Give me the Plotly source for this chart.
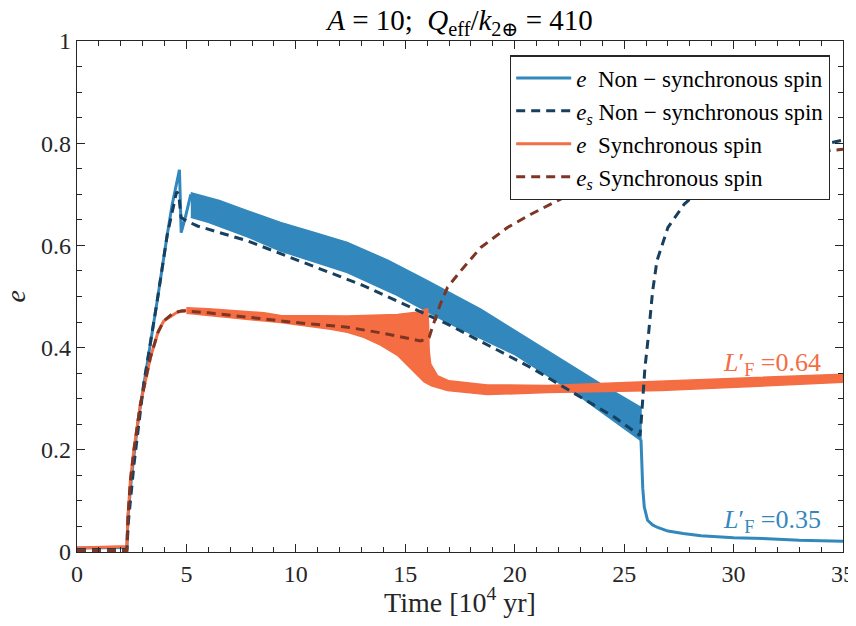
import plotly.graph_objects as go
import numpy as np

# ---------------- data ----------------
# Non-synchronous spin: e (thin part before oscillation band)
ns_e_x = [0, 2.28, 2.33, 2.5, 2.8, 3.05, 3.4, 3.66, 3.9, 4.12, 4.35, 4.55, 4.68, 4.72, 4.76, 4.95, 5.2]
ns_e_y = [0.008, 0.009, 0.07, 0.15, 0.26, 0.33, 0.42, 0.49, 0.56, 0.62, 0.68, 0.72, 0.748, 0.69, 0.625, 0.655, 0.70]
# Non-synchronous spin: e oscillation band (upper / lower envelope)
ns_up_x = [5.2, 6.5, 7.78, 9.3, 10.8, 12.35, 14.2, 16.01, 18.45, 21.5, 23.94, 25.77]
ns_up_y = [0.703, 0.688, 0.668, 0.645, 0.626, 0.606, 0.571, 0.531, 0.475, 0.394, 0.329, 0.283]
ns_lo_x = [5.2, 6.0, 7.78, 9.3, 10.8, 12.35, 14.5, 16.93, 19.97, 23.02, 25.77]
ns_lo_y = [0.655, 0.645, 0.617, 0.589, 0.568, 0.547, 0.505, 0.449, 0.387, 0.303, 0.218]
# Non-synchronous spin: e after the drop
ns_tail_x = [25.77, 25.8, 25.85, 25.92, 26.07, 26.3, 26.53, 27.0, 27.7, 28.51, 30, 31.56, 33, 35]
ns_tail_y = [0.22, 0.17, 0.125, 0.088, 0.062, 0.053, 0.048, 0.041, 0.036, 0.032, 0.028, 0.026, 0.023, 0.021]
# Non-synchronous spin: e_s
ns_es_x = [0, 2.28, 2.35, 2.6, 3.05, 3.66, 4.12, 4.4, 4.55, 4.65, 4.75, 5.0, 5.5, 7.78, 9.76, 13.11,
           16.93, 20.74, 24.55, 25.72, 25.77, 25.85, 25.95, 26.1, 26.3, 26.5, 27.0, 27.75, 28.97,
           30, 31, 32, 33, 34, 35]
ns_es_y = [0.005, 0.005, 0.06, 0.17, 0.33, 0.49, 0.62, 0.68, 0.705, 0.70, 0.655, 0.648, 0.638, 0.609, 0.576, 0.521,
           0.446, 0.361, 0.264, 0.228, 0.25, 0.30, 0.36, 0.42, 0.51, 0.57, 0.635, 0.681, 0.726,
           0.745, 0.762, 0.776, 0.787, 0.797, 0.806]

# Synchronous spin: e (thin part)
s_e_x = [0, 2.28, 2.33, 2.44, 2.6, 2.9, 3.35, 3.7, 3.96, 4.57, 5.0]
s_e_y = [0.008, 0.011, 0.07, 0.14, 0.20, 0.29, 0.38, 0.43, 0.452, 0.469, 0.473]
# Synchronous spin: e oscillation band
s_up_x = [5.0, 6.0, 8.54, 9.3, 12.35, 14.64, 15.5, 16.02, 16.06, 16.09, 16.16, 16.47, 17.0, 18.75, 21.5, 26.68, 30, 35]
s_up_y = [0.478, 0.476, 0.468, 0.463, 0.462, 0.465, 0.469, 0.476, 0.45, 0.394, 0.368, 0.345, 0.335, 0.327, 0.326, 0.334, 0.339, 0.348]
s_lo_x = [5.0, 6.0, 8.54, 9.3, 11.59, 12.35, 13.1, 13.87, 14.64, 15.1, 15.5, 15.86, 16.2, 16.93, 18.75, 21.5, 26.68, 30, 35]
s_lo_y = [0.467, 0.463, 0.452, 0.449, 0.436, 0.43, 0.42, 0.405, 0.385, 0.365, 0.348, 0.333, 0.325, 0.316, 0.308, 0.312, 0.316, 0.322, 0.332]
# Synchronous spin: e_s
s_es_x = [0, 2.28, 2.33, 2.44, 2.6, 2.9, 3.35, 3.7, 3.96, 4.4, 4.8, 6.0, 8.54, 10.0, 12.35, 14.0, 15.7,
          16.09, 16.2, 16.39, 16.6, 16.93, 17.53, 18.45, 19.67, 20.74, 22.26, 23.33, 24.7,
          26, 28, 30, 32, 34, 35]
s_es_y = [0.003, 0.003, 0.07, 0.14, 0.20, 0.29, 0.38, 0.43, 0.452, 0.468, 0.472, 0.468, 0.456, 0.449, 0.44, 0.428, 0.413,
          0.42, 0.435, 0.459, 0.485, 0.518, 0.55, 0.596, 0.635, 0.661, 0.694, 0.707, 0.723,
          0.735, 0.752, 0.764, 0.775, 0.784, 0.788]

x_ticks = [0, 5, 10, 15, 20, 25, 30, 35]
y_ticks = [0, 0.2, 0.4, 0.6, 0.8, 1]
y_tick_text = ["0", "0.2", "0.4", "0.6", "0.8", "1"]

labels = ["<i>e</i>  Non − synchronous spin",
          "<i>e<sub>s</sub></i> Non − synchronous spin",
          "<i>e</i>  Synchronous spin",
          "<i>e<sub>s</sub></i> Synchronous spin"]
lf_text = ["<i>L</i>′<sub>F</sub> =0.64", "<i>L</i>′<sub>F</sub> =0.35"]

# ---------------- style ----------------
BLUE = "#3288BD"
DARK = "#173F5E"
ORANGE = "#F46D43"
BROWN = "#7E3523"
FONT = "Liberation Serif, Times New Roman, DejaVu Serif, serif"
AX = "#262626"


def band(xu, yu, xl, yl):
    px = np.concatenate([np.asarray(xu), np.asarray(xl)[::-1]])
    py = np.concatenate([np.asarray(yu), np.asarray(yl)[::-1]])
    return px, py


fig = go.Figure()

# non-synchronous band
bx, by = band(ns_up_x, ns_up_y, ns_lo_x, ns_lo_y)
fig.add_trace(go.Scatter(x=bx, y=by, mode="lines", fill="toself", fillcolor=BLUE,
                         line=dict(color=BLUE, width=1.5), showlegend=False, hoverinfo="skip"))
fig.add_trace(go.Scatter(x=ns_e_x, y=ns_e_y, mode="lines", name=labels[0],
                         line=dict(color=BLUE, width=3), legendrank=1))
fig.add_trace(go.Scatter(x=ns_tail_x, y=ns_tail_y, mode="lines", showlegend=False,
                         line=dict(color=BLUE, width=3)))

# synchronous band
sx, sy = band(s_up_x, s_up_y, s_lo_x, s_lo_y)
fig.add_trace(go.Scatter(x=sx, y=sy, mode="lines", fill="toself", fillcolor=ORANGE,
                         line=dict(color=ORANGE, width=1.5), showlegend=False, hoverinfo="skip"))
fig.add_trace(go.Scatter(x=s_e_x, y=s_e_y, mode="lines", name=labels[2],
                         line=dict(color=ORANGE, width=3), legendrank=3))

# e_s curves
fig.add_trace(go.Scatter(x=ns_es_x, y=ns_es_y, mode="lines", name=labels[1],
                         line=dict(color=DARK, width=3, dash="9px,6px"), legendrank=2))
fig.add_trace(go.Scatter(x=s_es_x, y=s_es_y, mode="lines", name=labels[3],
                         line=dict(color=BROWN, width=3, dash="9px,6px"), legendrank=4))

axis_common = dict(showline=True, linecolor=AX, linewidth=1.2, mirror="ticks",
                   ticks="inside", ticklen=8, tickcolor=AX, tickwidth=1.2,
                   showgrid=False, zeroline=False, ticklabeloverflow="allow",
                   automargin=False,
                   tickfont=dict(family=FONT, size=24, color=AX))

fig.update_xaxes(range=[0, 35], tickvals=x_ticks,
                 minor=dict(dtick=1, ticks="inside", ticklen=4.5, tickcolor=AX, showgrid=False),
                 title=dict(text="Time [10<sup>4</sup> yr]", font=dict(family=FONT, size=28, color=AX),
                            standoff=2),
                 **axis_common)
fig.update_yaxes(range=[0, 1], tickvals=y_ticks, ticktext=y_tick_text,
                 minor=dict(dtick=0.05, ticks="inside", ticklen=4.5, tickcolor=AX, showgrid=False),
                 **axis_common)

# y-axis label (placed as a paper annotation so it can sit further left than the axis title allows)
fig.add_annotation(x=0, y=0.5, xref="paper", yref="paper", xanchor="center", yanchor="middle",
                   xshift=-62, text="<i>e</i>", textangle=-90, showarrow=False,
                   font=dict(family=FONT, size=28, color=AX))

fig.add_annotation(x=35, y=0.367, xref="x", yref="y", xanchor="right", yanchor="middle",
                   text=lf_text[0], showarrow=False, xshift=-20,
                   font=dict(family=FONT, size=26, color=ORANGE))
fig.add_annotation(x=35, y=0.06, xref="x", yref="y", xanchor="right", yanchor="middle",
                   text=lf_text[1], showarrow=False, xshift=-20,
                   font=dict(family=FONT, size=26, color=BLUE))

# page body has an 8px margin, so the figure is sized/offset to land on the reference pixels
fig.update_layout(
    width=848, height=610,
    margin=dict(l=69, r=13, t=33, b=66, autoexpand=False),
    paper_bgcolor="white", plot_bgcolor="white",
    title=dict(text="<i>A</i> = 10;  <i>Q</i><sub>eff</sub>/<i>k</i><sub>2⊕</sub> = 410",
               x=0.5, xref="paper", xanchor="center", y=0.981, yanchor="middle",
               font=dict(family=FONT, size=29, color="black")),
    legend=dict(x=0.983, y=0.972, xanchor="right", yanchor="top",
                bgcolor="white", bordercolor=AX, borderwidth=1.2,
                font=dict(family=FONT, size=23, color="black"),
                tracegroupgap=0, itemwidth=55),
    showlegend=True,
)

fig.write_html("out.html")
